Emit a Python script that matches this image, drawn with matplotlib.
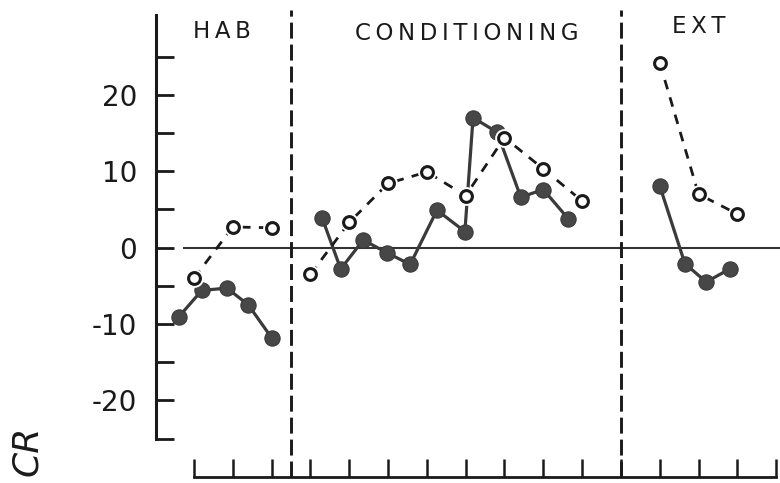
import matplotlib
matplotlib.use("Agg")
import matplotlib.pyplot as plt

plt.rcParams['font.family'] = ['DejaVu Sans']
plt.rcParams['lines.scale_dashes'] = False
plt.rcParams['axes.unicode_minus'] = False

# Phase headings and the trial positions of the phase boundaries
phases = ["HAB", "CONDITIONING", "EXT"]
phase_x = [0.72, 7.04, 13.0]
phase_y = [27.4, 27.2, 28.1]
boundaries = [2.5, 11.0]

# Y tick labels
ytick_values = [20, 10, 0, -10, -20]
ytick_labels = ["20", "10", "0", "-10", "-20"]

# Open-circle series (one point per block)
hab_open_x = [0, 1, 2]
hab_open_y = [-4.0, 2.7, 2.6]
cond_open_x = [3, 4, 5, 6, 7, 8, 9, 10]
cond_open_y = [-3.5, 3.3, 8.4, 9.9, 6.8, 14.4, 10.3, 6.1]
ext_open_x = [12, 13, 14]
ext_open_y = [24.2, 7.0, 4.4]

# Filled-circle series
hab_fill_x = [-0.4, 0.2, 0.85, 1.4, 2.0]
hab_fill_y = [-9.1, -5.6, -5.3, -7.5, -11.8]
cond_fill_x = [3.3, 3.78, 4.36, 4.98, 5.57, 6.26, 6.98, 7.19, 7.81, 8.42, 9.0, 9.64]
cond_fill_y = [3.9, -2.8, 1.0, -0.7, -2.2, 4.9, 2.1, 17.0, 15.1, 6.6, 7.6, 3.8]
ext_fill_x = [12.0, 12.65, 13.2, 13.8]
ext_fill_y = [8.1, -2.1, -4.5, -2.8]

fig = plt.figure(figsize=(7.8, 4.83), dpi=100)
ax = fig.add_axes([0, 0, 1, 1])
ax.set_xlim(-5.0, 15.1)
ax.set_ylim(-30.8, 32.4)
ax.patch.set_visible(False)

ink = "#1a1a1a"
fill_col = "#474747"

# Axes frame: left spine with inward ticks, separate trial axis at the bottom
for s in ("top", "right"):
    ax.spines[s].set_visible(False)
ax.spines["left"].set_position(("data", -0.98))
ax.spines["left"].set_bounds(-25, 30.4)
ax.spines["left"].set_linewidth(2.2)
ax.spines["left"].set_color(ink)
ax.spines["bottom"].set_position(("data", -30.0))
ax.spines["bottom"].set_bounds(0, 15)
ax.spines["bottom"].set_linewidth(2.0)
ax.spines["bottom"].set_color(ink)

ax.set_yticks(list(range(-25, 30, 5)))
ax.set_yticklabels([ytick_labels[ytick_values.index(v)] if v in ytick_values else ""
                    for v in range(-25, 30, 5)])
ax.tick_params(axis="y", direction="in", length=13, width=2.0, color=ink,
               pad=13.5, labelsize=20, labelcolor=ink)
ax.set_xticks(list(range(0, 16)))
ax.set_xticklabels([])
ax.tick_params(axis="x", direction="in", length=13, width=1.8, color=ink)

# Zero reference line and phase boundaries
ax.hlines(0, -0.28, 15.1, color="#333333", linewidth=1.5, zorder=1)
ax.vlines(boundaries, -30, 31.1, color=ink, linewidth=2.1,
          linestyles=[(0, (11.5, 4.3))], zorder=1)

# Filled series
for xs, ys in ((hab_fill_x, hab_fill_y), (cond_fill_x, cond_fill_y), (ext_fill_x, ext_fill_y)):
    ax.plot(xs, ys, color="#3a3a3a", linewidth=2.3, solid_capstyle="round", zorder=2)
    ax.plot(xs, ys, linestyle="none", marker="o", markersize=11,
            markerfacecolor=fill_col, markeredgecolor="#3a3a3a", markeredgewidth=0.8, zorder=3)

# Open series: dashed connectors, white halo, then hollow markers
for xs, ys in ((hab_open_x, hab_open_y), (cond_open_x, cond_open_y), (ext_open_x, ext_open_y)):
    ax.plot(xs, ys, color=ink, linewidth=2.0, linestyle=(0, (7, 6)), zorder=4)
    ax.plot(xs, ys, linestyle="none", marker="o", markersize=13.5,
            markerfacecolor="white", markeredgecolor="none", zorder=5)
    ax.plot(xs, ys, linestyle="none", marker="o", markersize=8.5,
            markerfacecolor="white", markeredgecolor=ink, markeredgewidth=2.2, zorder=6)

# Phase headings (letter-spaced)
thin = "\u2009"
for name, px, py in zip(phases, phase_x, phase_y):
    ax.text(px, py, thin.join(name), ha="center", va="baseline",
            fontsize=16.5, color=ink)

# Axis title, partly running off the lower edge
fig.text(27 / 780, (483 - 426) / 483, "CR", rotation=90, ha="center", va="top",
         fontsize=26, style="italic", color=ink)

fig.savefig("out.png", dpi=100)
